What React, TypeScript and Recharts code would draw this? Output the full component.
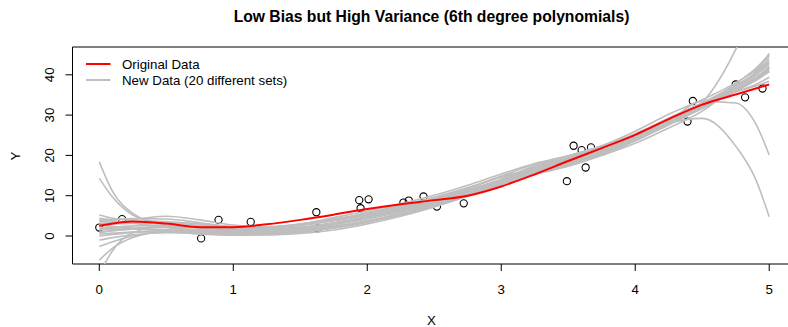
import React from 'react';
import { ComposedChart, Line, Scatter, XAxis, YAxis, ReferenceArea } from 'recharts';

// Shared x grid for every fitted curve
const xs = [0, 0.1, 0.25, 0.5, 0.75, 1, 1.25, 1.5, 1.75, 2, 2.25, 2.5, 2.75, 3, 3.25, 3.5, 3.75, 4, 4.25, 4.5, 4.75, 4.9, 5];

// Fit to the original sample
const originalFit = [2.5, 3.1, 3.6, 3.1, 2.2, 2.2, 2.9, 4.0, 5.3, 6.7, 7.9, 8.9, 10.0, 12.3, 15.3, 18.6, 21.8, 25.1, 29.0, 32.6, 35.1, 36.6, 37.6];

// Fits to 20 resampled data sets
const fit01 = [18.4, 11.0, 5.6, 2.6, 1.5, 1.4, 1.9, 2.9, 4.2, 5.6, 7.2, 9.0, 11.2, 13.8, 16.8, 19.0, 21.4, 24.6, 28.6, 32.4, 36.6, 39.2, 41.8];
const fit02 = [14.3, 9.6, 5.2, 2.9, 2.0, 1.7, 2.0, 2.8, 3.9, 5.2, 6.8, 8.7, 11.0, 13.7, 16.4, 18.6, 21.2, 24.4, 28.2, 32.2, 37.2, 40.6, 44.0];
const fit03 = [-9.5, -3.6, 0.8, 2.4, 2.3, 2.0, 2.2, 2.8, 3.8, 5.2, 6.9, 8.9, 11.3, 14.0, 17.2, 19.4, 21.8, 24.8, 28.4, 31.8, 36.8, 40.8, 45.3];
const fit04 = [-2.6, -1.4, 0.0, 1.0, 1.2, 1.1, 1.4, 2.1, 3.2, 4.5, 6.1, 8.0, 10.3, 13.0, 16.0, 18.4, 21.0, 24.2, 28.0, 32.0, 36.4, 39.2, 42.0];
const fit05 = [-6.0, -3.0, -0.4, 1.2, 1.5, 1.5, 1.9, 2.7, 3.9, 5.3, 7.0, 9.0, 11.4, 14.1, 17.4, 19.8, 22.2, 25.2, 28.8, 32.4, 35.8, 37.2, 38.4];
const fit06 = [3.8, 4.0, 4.3, 4.2, 3.3, 2.3, 2.1, 2.7, 3.8, 5.3, 7.1, 9.3, 11.8, 14.6, 16.6, 19.0, 21.6, 24.8, 28.0, 29.2, 22.3, 14.0, 4.8];
const fit07 = [0.8, 1.3, 1.9, 2.4, 2.4, 2.2, 2.2, 3.0, 4.2, 5.6, 7.3, 9.3, 11.8, 14.7, 16.8, 19.4, 22.0, 25.0, 28.6, 33.4, 33.0, 27.8, 20.1];
const fit08 = [1.5, 1.6, 1.8, 1.6, 1.1, 0.8, 1.1, 1.9, 3.1, 4.6, 6.4, 8.4, 10.8, 13.5, 16.2, 18.6, 21.0, 24.0, 27.6, 33.0, 46.3, 58.0, 68.0];
const fit09 = [5.2, 4.4, 3.8, 3.6, 3.0, 2.3, 2.1, 2.6, 3.9, 5.8, 7.6, 9.6, 12.0, 14.9, 17.8, 19.9, 22.3, 25.4, 29.2, 33.0, 37.4, 40.0, 42.6];
const fit10 = [4.4, 4.1, 4.2, 4.9, 4.0, 2.7, 2.3, 2.9, 4.6, 6.2, 8.0, 10.1, 12.6, 15.4, 18.0, 19.9, 22.4, 26.0, 30.2, 33.8, 38.0, 41.2, 44.6];
const fit11 = [3.0, 3.0, 3.1, 3.2, 2.7, 2.0, 1.8, 2.2, 3.3, 4.8, 6.6, 8.7, 11.1, 13.8, 16.6, 18.9, 21.4, 24.8, 28.8, 32.6, 36.4, 38.6, 40.8];
const fit12 = [2.0, 2.2, 2.5, 2.7, 2.3, 1.7, 1.5, 1.9, 2.9, 4.3, 6.0, 8.0, 10.4, 13.2, 16.0, 18.4, 21.0, 24.4, 28.4, 32.2, 35.8, 37.6, 39.4];
const fit13 = [1.0, 1.3, 1.7, 2.2, 2.0, 1.5, 1.2, 1.5, 2.4, 3.8, 5.6, 7.8, 10.4, 13.3, 16.2, 18.6, 21.2, 24.6, 28.6, 32.4, 36.8, 39.4, 42.0];
const fit14 = [0.0, 0.4, 0.9, 1.4, 1.3, 0.9, 0.7, 1.1, 2.1, 3.5, 5.3, 7.5, 10.1, 13.0, 15.8, 18.2, 20.8, 24.2, 28.4, 32.6, 37.4, 40.4, 43.4];
const fit15 = [-1.0, -0.4, 0.3, 0.8, 0.7, 0.5, 0.5, 1.0, 2.1, 3.6, 5.5, 7.7, 10.3, 13.1, 15.6, 17.8, 20.4, 23.8, 27.8, 31.8, 36.2, 38.8, 41.2];
const fit16 = [3.5, 3.4, 3.3, 3.0, 2.1, 1.2, 0.8, 1.1, 2.0, 3.5, 5.4, 7.7, 10.4, 13.4, 16.8, 19.2, 21.8, 25.2, 29.2, 33.0, 36.8, 38.8, 40.8];
const fit17 = [1.8, 1.9, 1.8, 1.2, 0.5, 0.2, 0.3, 0.9, 2.0, 3.4, 5.2, 7.3, 9.9, 12.8, 15.4, 17.6, 20.2, 23.6, 27.6, 31.6, 36.0, 38.6, 41.2];
const fit18 = [0.5, 0.7, 1.0, 1.0, 0.6, 0.4, 0.7, 1.5, 2.8, 4.3, 6.1, 8.1, 10.5, 13.2, 15.8, 18.0, 20.6, 24.0, 28.0, 32.2, 37.8, 41.6, 45.0];
const fit19 = [2.6, 2.4, 2.0, 1.4, 0.8, 0.6, 0.8, 1.4, 2.4, 3.8, 5.6, 7.7, 10.1, 12.8, 15.2, 17.3, 20.0, 23.0, 26.8, 31.0, 37.0, 40.0, 43.0];
const fit20 = [4.0, 3.7, 3.2, 2.1, 1.0, 0.4, 0.3, 0.6, 1.5, 3.0, 4.9, 7.2, 9.9, 12.9, 15.6, 17.6, 20.2, 23.6, 27.8, 31.8, 36.4, 39.0, 41.6];

const newDataFits = [fit01, fit02, fit03, fit04, fit05, fit06, fit07, fit08, fit09, fit10, fit11, fit12, fit13, fit14, fit15, fit16, fit17, fit18, fit19, fit20];

// Observed sample
const sampleX = [0.0, 0.17, 0.76, 0.83, 0.89, 1.13, 1.62, 1.63, 1.94, 1.95, 2.01, 2.27, 2.31, 2.42, 2.52, 2.72, 3.49, 3.54, 3.6, 3.63, 3.67, 4.39, 4.43, 4.75, 4.82, 4.95];
const sampleY = [2.1, 4.2, -0.6, 1.9, 4.0, 3.5, 5.9, 1.9, 8.9, 6.9, 9.1, 8.3, 8.8, 9.8, 7.3, 8.1, 13.6, 22.4, 21.3, 17.0, 22.0, 28.4, 33.5, 37.6, 34.4, 36.6];

const xTicks = [0, 1, 2, 3, 4, 5];
const yTicks = [0, 10, 20, 30, 40];
const xDomain: [number, number] = [-0.2, 5.2];
const yDomain: [number, number] = [-6.95, 46.9];

const toRows = (ys: number[]) => xs.map((x, i) => ({ x, y: ys[i] }));
const originalRows = toRows(originalFit);
const newRows = newDataFits.map(toRows);
const points = sampleX.map((x, i) => ({ x, y: sampleY[i] }));

const FONT = '"Liberation Sans", Arial, Helvetica, sans-serif';
const GRAY = '#bebebe';
const W = 810;
const H = 327;

const YTick = (props: any) => {
  const { x, y, payload } = props;
  return (
    <text
      x={x}
      y={y}
      transform={`rotate(-90, ${x}, ${y})`}
      textAnchor="middle"
      dominantBaseline="central"
      fontFamily={FONT}
      fontSize={13.3}
      fill="#000"
    >
      {payload.value}
    </text>
  );
};

const OpenCircle = (props: any) => {
  const { cx, cy } = props;
  return <circle cx={cx} cy={cy} r={3.6} fill="none" stroke="#000" strokeWidth={1.1} />;
};

// Base layer: axes, frame and the sample points (drawn first so the fits cover them)
function PointsLayer() {
  return (
    <ComposedChart width={W} height={H} margin={{ top: 47, right: 14, bottom: 33, left: 12.5 }}>
      <XAxis
        type="number"
        dataKey="x"
        domain={xDomain}
        ticks={xTicks}
        allowDataOverflow
        axisLine={false}
        tickLine={{ stroke: '#000' }}
        tickSize={7}
        tickMargin={13.5}
        height={30}
        tick={{ fill: '#000', fontSize: 13.3, fontFamily: FONT }}
      />
      <YAxis
        type="number"
        dataKey="y"
        domain={yDomain}
        ticks={yTicks}
        allowDataOverflow
        axisLine={false}
        tickLine={{ stroke: '#000' }}
        tickSize={7}
        tickMargin={16}
        width={60}
        tick={<YTick />}
      />
      <Scatter data={points} dataKey="y" shape={<OpenCircle />} isAnimationActive={false} />
      <ReferenceArea
        x1={xDomain[0]}
        x2={xDomain[1]}
        y1={yDomain[0]}
        y2={yDomain[1]}
        fill="none"
        stroke="#000"
        strokeWidth={1}
        ifOverflow="visible"
      />
    </ComposedChart>
  );
}

// Top layer: the 20 resampled fits and the original fit, same plot box
function FitsLayer() {
  return (
    <ComposedChart width={W} height={H} margin={{ top: 47, right: 14, bottom: 63, left: 72.5 }}>
      <XAxis type="number" dataKey="x" domain={xDomain} allowDataOverflow hide />
      <YAxis type="number" dataKey="y" domain={yDomain} allowDataOverflow hide />
      {newRows.map((rows, i) => (
        <Line
          key={i}
          data={rows}
          dataKey="y"
          type="monotone"
          stroke={GRAY}
          strokeWidth={1.6}
          dot={false}
          activeDot={false}
          isAnimationActive={false}
        />
      ))}
      <Line
        data={originalRows}
        dataKey="y"
        type="monotone"
        stroke="#ff0000"
        strokeWidth={2}
        dot={false}
        activeDot={false}
        isAnimationActive={false}
      />
    </ComposedChart>
  );
}

export default function App() {
  return (
    <div style={{ position: 'absolute', left: 0, top: 0, width: 788, height: 327, overflow: 'hidden', background: '#fff' }}>
      <div style={{ position: 'absolute', left: 0, top: 0 }}>
        <PointsLayer />
      </div>
      <div style={{ position: 'absolute', left: 0, top: 0 }}>
        <FitsLayer />
      </div>
      <svg width={788} height={327} style={{ position: 'absolute', left: 0, top: 0, pointerEvents: 'none' }}>
        <text x={431.5} y={16} textAnchor="middle" dominantBaseline="central" fontFamily={FONT} fontWeight="bold" fontSize={15.7} fill="#000">
          Low Bias but High Variance (6th degree polynomials)
        </text>
        <text x={431.5} y={320} textAnchor="middle" dominantBaseline="central" fontFamily={FONT} fontSize={13.3} fill="#000">
          X
        </text>
        <text x={15} y={156} transform="rotate(-90, 15, 156)" textAnchor="middle" dominantBaseline="central" fontFamily={FONT} fontSize={13.3} fill="#000">
          Y
        </text>
        <line x1={86} y1={64} x2={110.5} y2={64} stroke="#ff0000" strokeWidth={2} />
        <line x1={86} y1={80} x2={110.5} y2={80} stroke={GRAY} strokeWidth={2} />
        <text x={122} y={64} dominantBaseline="central" fontFamily={FONT} fontSize={13.3} fill="#000">
          Original Data
        </text>
        <text x={122} y={80} dominantBaseline="central" fontFamily={FONT} fontSize={13.3} fill="#000">
          New Data (20 different sets)
        </text>
      </svg>
    </div>
  );
}
